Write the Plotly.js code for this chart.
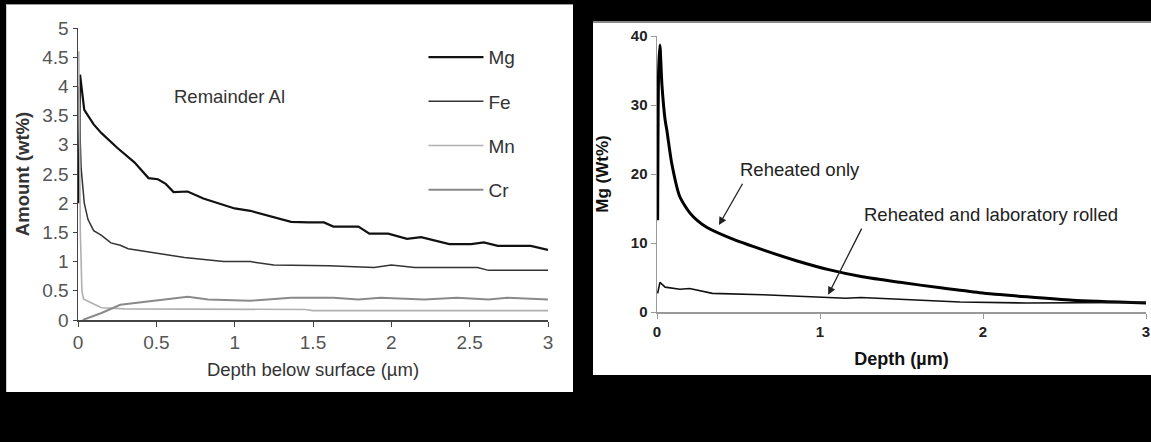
<!DOCTYPE html>
<html>
<head>
<meta charset="utf-8">
<script src="https://cdn.plot.ly/plotly-3.0.1.min.js"></script>
<style>
  html, body { margin: 0; padding: 0; background: #000; width: 1151px; height: 442px; overflow: hidden; }
  #left { position: absolute; left: 6px; top: 4px; width: 567px; height: 388px; background: #fff; border-top: 1px solid #999; border-left: 1px solid #ccc; box-sizing: border-box; }
  #right { position: absolute; left: 593px; top: 21px; width: 558px; height: 354px; background: #fff; border-top: 2px solid #888; box-sizing: border-box; }
</style>
</head>
<body>
<div id="left"></div>
<div id="right"></div>
<script>
// ---- Left panel data: composition vs depth ----
const mgX = [0.003, 0.013, 0.04, 0.1, 0.15, 0.25, 0.36, 0.45, 0.51, 0.56, 0.61, 0.7, 0.8, 0.9, 1.0, 1.1, 1.21, 1.36, 1.47, 1.57, 1.63, 1.79, 1.86, 1.98, 2.1, 2.19, 2.37, 2.51, 2.59, 2.68, 2.89, 3.0];
const mgY = [2.0, 4.2, 3.6, 3.35, 3.2, 2.95, 2.7, 2.43, 2.41, 2.33, 2.19, 2.2, 2.08, 2.0, 1.91, 1.87, 1.79, 1.68, 1.67, 1.67, 1.6, 1.6, 1.48, 1.48, 1.39, 1.42, 1.30, 1.30, 1.33, 1.27, 1.27, 1.2];

const feX = [0.003, 0.02, 0.04, 0.064, 0.1, 0.15, 0.21, 0.27, 0.32, 0.47, 0.68, 0.93, 1.1, 1.25, 1.42, 1.6, 1.89, 2.0, 2.15, 2.55, 2.62, 3.0];
const feY = [4.0, 2.6, 2.0, 1.72, 1.53, 1.45, 1.32, 1.28, 1.22, 1.16, 1.07, 1.0, 1.0, 0.94, 0.94, 0.93, 0.90, 0.94, 0.90, 0.90, 0.85, 0.85];

const mnX = [0.005, 0.015, 0.025, 0.035, 0.08, 0.15, 0.3, 0.5, 1.0, 1.45, 1.5, 2.0, 2.5, 3.0];
const mnY = [4.6, 1.5, 0.5, 0.36, 0.30, 0.21, 0.19, 0.19, 0.18, 0.18, 0.16, 0.16, 0.16, 0.16];

const crX = [0.03, 0.15, 0.27, 0.47, 0.7, 0.83, 1.1, 1.36, 1.63, 1.79, 1.93, 2.21, 2.42, 2.62, 2.74, 3.0];
const crY = [0, 0.12, 0.26, 0.33, 0.40, 0.35, 0.33, 0.38, 0.38, 0.35, 0.38, 0.35, 0.38, 0.35, 0.38, 0.35];

const leftNames = ["Mg", "Fe", "Mn", "Cr"];

// ---- Right panel data: Mg vs depth ----
const reheatX = [0.004, 0.01, 0.018, 0.03, 0.05, 0.06, 0.09, 0.14, 0.2, 0.25, 0.31, 0.45, 0.65, 0.86, 1.06, 1.26, 1.49, 1.74, 1.98, 2.27, 2.55, 3.0];
const reheatY = [13.3, 35, 38.7, 33, 27.8, 26.4, 21.6, 16.7, 14.4, 13.2, 12.2, 10.7, 9.0, 7.4, 6.1, 5.1, 4.3, 3.5, 2.8, 2.2, 1.7, 1.3];

const rolledX = [0.004, 0.018, 0.05, 0.14, 0.2, 0.34, 0.65, 0.96, 1.16, 1.25, 1.86, 2.27, 3.0];
const rolledY = [2.7, 4.3, 3.6, 3.3, 3.4, 2.7, 2.5, 2.2, 2.0, 2.1, 1.45, 1.3, 1.4];

const rightLabels = ["Reheated only", "Reheated and laboratory rolled"];

const FONT = "Arial, 'Liberation Sans', sans-serif";

// ---------------- LEFT ----------------
const leftTraces = [
  {x: mgX, y: mgY, name: leftNames[0], legendgroup: "a", line: {color: "#111", width: 2.2}},
  {x: feX, y: feY, name: leftNames[1], legendgroup: "b", line: {color: "#333", width: 1.5}},
  {x: mnX, y: mnY, name: leftNames[2], legendgroup: "c", line: {color: "#b0b0b0", width: 1.6}},
  {x: crX, y: crY, name: leftNames[3], legendgroup: "d", line: {color: "#8a8a8a", width: 2}}
].map(t => Object.assign({type: "scatter", mode: "lines", hoverinfo: "skip"}, t));

const leftLayout = {
  width: 567, height: 388,
  margin: {l: 71, r: 26, t: 23, b: 73},
  paper_bgcolor: "rgba(0,0,0,0)", plot_bgcolor: "#fff",
  font: {family: FONT, size: 18.5, color: "#444"},
  showlegend: true,
  legend: {x: 0.735, y: 0.965, xanchor: "left", yanchor: "top", bgcolor: "rgba(0,0,0,0)",
           font: {size: 19, color: "#333"}, traceorder: "grouped", tracegroupgap: 16.5, itemwidth: 55},
  xaxis: {range: [0, 3], dtick: 0.5, showgrid: false, zeroline: false, showline: true, linecolor: "#444", linewidth: 1.5,
          ticks: "outside", ticklen: 5, tickcolor: "#444", tickfont: {size: 19, color: "#555"},
          title: {text: "Depth below surface (µm)", font: {size: 18.5, color: "#333"}, standoff: 11}},
  yaxis: {range: [0, 5], dtick: 0.5, showgrid: false, zeroline: false, showline: true, linecolor: "#444", linewidth: 1.5,
          ticks: "outside", ticklen: 4, tickcolor: "#444", tickfont: {size: 19, color: "#555"},
          title: {text: "<b>Amount (wt%)</b>", font: {size: 18.5, color: "#333"}, standoff: 8}},
  annotations: [
    {xref: "x", yref: "y", x: 0.97, y: 3.82, text: "Remainder Al", showarrow: false,
     font: {size: 18.5, color: "#333"}, xanchor: "center", yanchor: "middle"}
  ]
};

Plotly.newPlot("left", leftTraces, leftLayout, {displayModeBar: false, staticPlot: true});

// ---------------- RIGHT ----------------
const rightTraces = [
  {x: reheatX, y: reheatY, name: rightLabels[0], line: {color: "#000", width: 3, shape: "spline", smoothing: 0.6}},
  {x: rolledX, y: rolledY, name: rightLabels[1], line: {color: "#111", width: 1.6}}
].map(t => Object.assign({type: "scatter", mode: "lines", hoverinfo: "skip", showlegend: false}, t));

const rightLayout = {
  width: 558, height: 352,
  margin: {l: 64, r: 5, t: 13, b: 63},
  paper_bgcolor: "rgba(0,0,0,0)", plot_bgcolor: "#fff",
  font: {family: FONT, size: 15, color: "#222"},
  showlegend: false,
  xaxis: {range: [0, 3], dtick: 1, showgrid: false, zeroline: false, showline: true, linecolor: "#999", linewidth: 1.5,
          ticks: "outside", ticklen: 5, tickcolor: "#999", tickfont: {size: 15, color: "#222", weight: "bold"},
          title: {text: "<b>Depth (µm)</b>", font: {size: 18, color: "#111"}, standoff: 14}},
  yaxis: {range: [0, 40], dtick: 10, showgrid: false, zeroline: false, showline: true, linecolor: "#999", linewidth: 1.5,
          ticks: "outside", ticklen: 5, tickcolor: "#999", tickfont: {size: 15, color: "#222", weight: "bold"},
          title: {text: "<b>Mg (Wt%)</b>", font: {size: 17, color: "#111"}, standoff: 18}},
  annotations: [
    {xref: "x", yref: "y", x: 0.88, y: 20.6, text: rightLabels[0], showarrow: false,
     font: {size: 18.5, color: "#222"}, xanchor: "center", yanchor: "middle"},
    {xref: "x", yref: "y", x: 2.05, y: 14.2, text: rightLabels[1], showarrow: false,
     font: {size: 18.5, color: "#222"}, xanchor: "center", yanchor: "middle"},
    {xref: "x", yref: "y", x: 0.38, y: 12.6, axref: "x", ayref: "y", ax: 0.53, ay: 18.8, text: "",
     showarrow: true, arrowhead: 2, arrowsize: 1.2, arrowwidth: 1.3, arrowcolor: "#222"},
    {xref: "x", yref: "y", x: 1.05, y: 2.5, axref: "x", ayref: "y", ax: 1.26, ay: 12.3, text: "",
     showarrow: true, arrowhead: 2, arrowsize: 1.2, arrowwidth: 1.3, arrowcolor: "#222"}
  ]
};

Plotly.newPlot("right", rightTraces, rightLayout, {displayModeBar: false, staticPlot: true});
</script>
</body>
</html>
